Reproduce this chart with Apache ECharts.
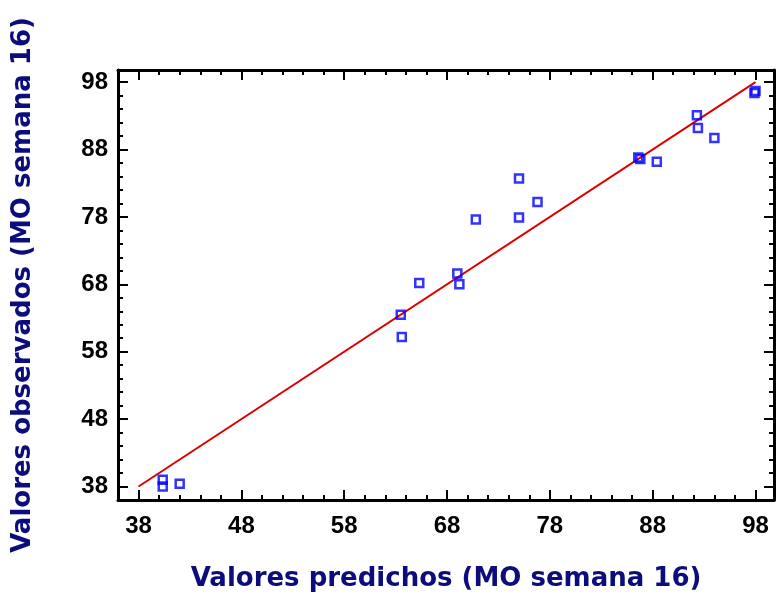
<!DOCTYPE html>
<html>
<head>
<meta charset="utf-8">
<script src="https://cdn.jsdelivr.net/npm/echarts@6/dist/echarts.min.js"></script>
<style>html,body{margin:0;padding:0;background:#fff}#c{width:776px;height:597px}</style>
</head>
<body>
<div id="c"></div>
<script>
// Data
const predicted = [40.35, 40.35, 42.0, 63.5, 63.6, 65.3, 69.0, 69.2, 70.8, 75.0, 75.0, 76.8, 86.6, 86.8, 88.4, 92.3, 92.4, 94.0, 97.9, 98.0];
const observed  = [39.0, 38.0, 38.4, 63.5, 60.2, 68.2, 69.6, 68.0, 77.6, 83.7, 77.9, 80.2, 86.8, 86.6, 86.2, 93.1, 91.2, 89.7, 96.4, 96.7];
const fitX = [38, 98];
const fitY = [38, 98];
const majorTicks = [38, 48, 58, 68, 78, 88, 98];
const minorTicks = [38, 40, 42, 44, 46, 48, 50, 52, 54, 56, 58, 60, 62, 64, 66, 68, 70, 72, 74, 76, 78, 80, 82, 84, 86, 88, 90, 92, 94, 96, 98];
const xTitle = 'Valores predichos (MO semana 16)';
const yTitle = 'Valores observados (MO semana 16)';

const FONT = '"Liberation Sans", Arial, sans-serif';
const TFONT = '"DejaVu Sans", Verdana, sans-serif';
const AX_MIN = 36, AX_MAX = 99.8;

function mkAxis(pos, ticks, len, showLine, showLabel, extra) {
  const a = {
    type: 'value', position: pos, min: AX_MIN, max: AX_MAX,
    splitLine: {show: false},
    axisLine: {show: showLine, onZero: false, lineStyle: {color: '#000', width: 3}},
    axisTick: {show: true, inside: true, length: len, customValues: ticks, lineStyle: {color: '#000', width: 2}},
    axisLabel: {show: showLabel, customValues: majorTicks, color: '#000', fontFamily: FONT, fontWeight: 'bold', fontSize: 24},
  };
  return Object.assign(a, extra || {});
}

const sp = [];
for (let i = 0; i < predicted.length; i++) sp.push([predicted[i], observed[i]]);
const lp = [];
for (let i = 0; i < fitX.length; i++) lp.push([fitX[i], fitY[i]]);

const titleStyle = {color: '#0c0c7c', fontFamily: TFONT, fontWeight: 'bold', fontSize: 26};

const chart = echarts.init(document.getElementById('c'), null, {renderer: 'canvas'});
chart.setOption({
  animation: false,
  backgroundColor: '#fff',
  grid: {left: 118, top: 70, right: 2, bottom: 96},
  xAxis: [
    mkAxis('bottom', majorTicks, 10, true, true, {
      name: xTitle, nameLocation: 'middle', nameGap: 66,
      nameTextStyle: titleStyle,
      axisLabel: {show: true, customValues: majorTicks, color: '#000', fontFamily: FONT, fontWeight: 'bold', fontSize: 24, margin: 14}
    }),
    mkAxis('bottom', minorTicks, 5, false, false),
    mkAxis('top', majorTicks, 10, true, false),
    mkAxis('top', minorTicks, 5, false, false)
  ],
  yAxis: [
    mkAxis('left', majorTicks, 10, true, true, {
      name: yTitle, nameLocation: 'middle', nameGap: 82,
      nameTextStyle: titleStyle,
      axisLabel: {show: true, customValues: majorTicks, color: '#000', fontFamily: FONT, fontWeight: 'bold', fontSize: 24, margin: 10}
    }),
    mkAxis('left', minorTicks, 5, false, false),
    mkAxis('right', majorTicks, 10, true, false),
    mkAxis('right', minorTicks, 5, false, false)
  ],
  series: [
    {
      type: 'line', data: lp, xAxisIndex: 0, yAxisIndex: 0, symbol: 'none',
      lineStyle: {color: '#dd0000', width: 2}, z: 2
    },
    {
      type: 'scatter', data: sp, xAxisIndex: 0, yAxisIndex: 0, symbol: 'rect', symbolSize: 8,
      itemStyle: {color: 'rgba(255,255,255,0)', borderColor: '#0000ff', borderWidth: 2.5}, z: 3
    }
  ]
});
</script>
</body>
</html>
